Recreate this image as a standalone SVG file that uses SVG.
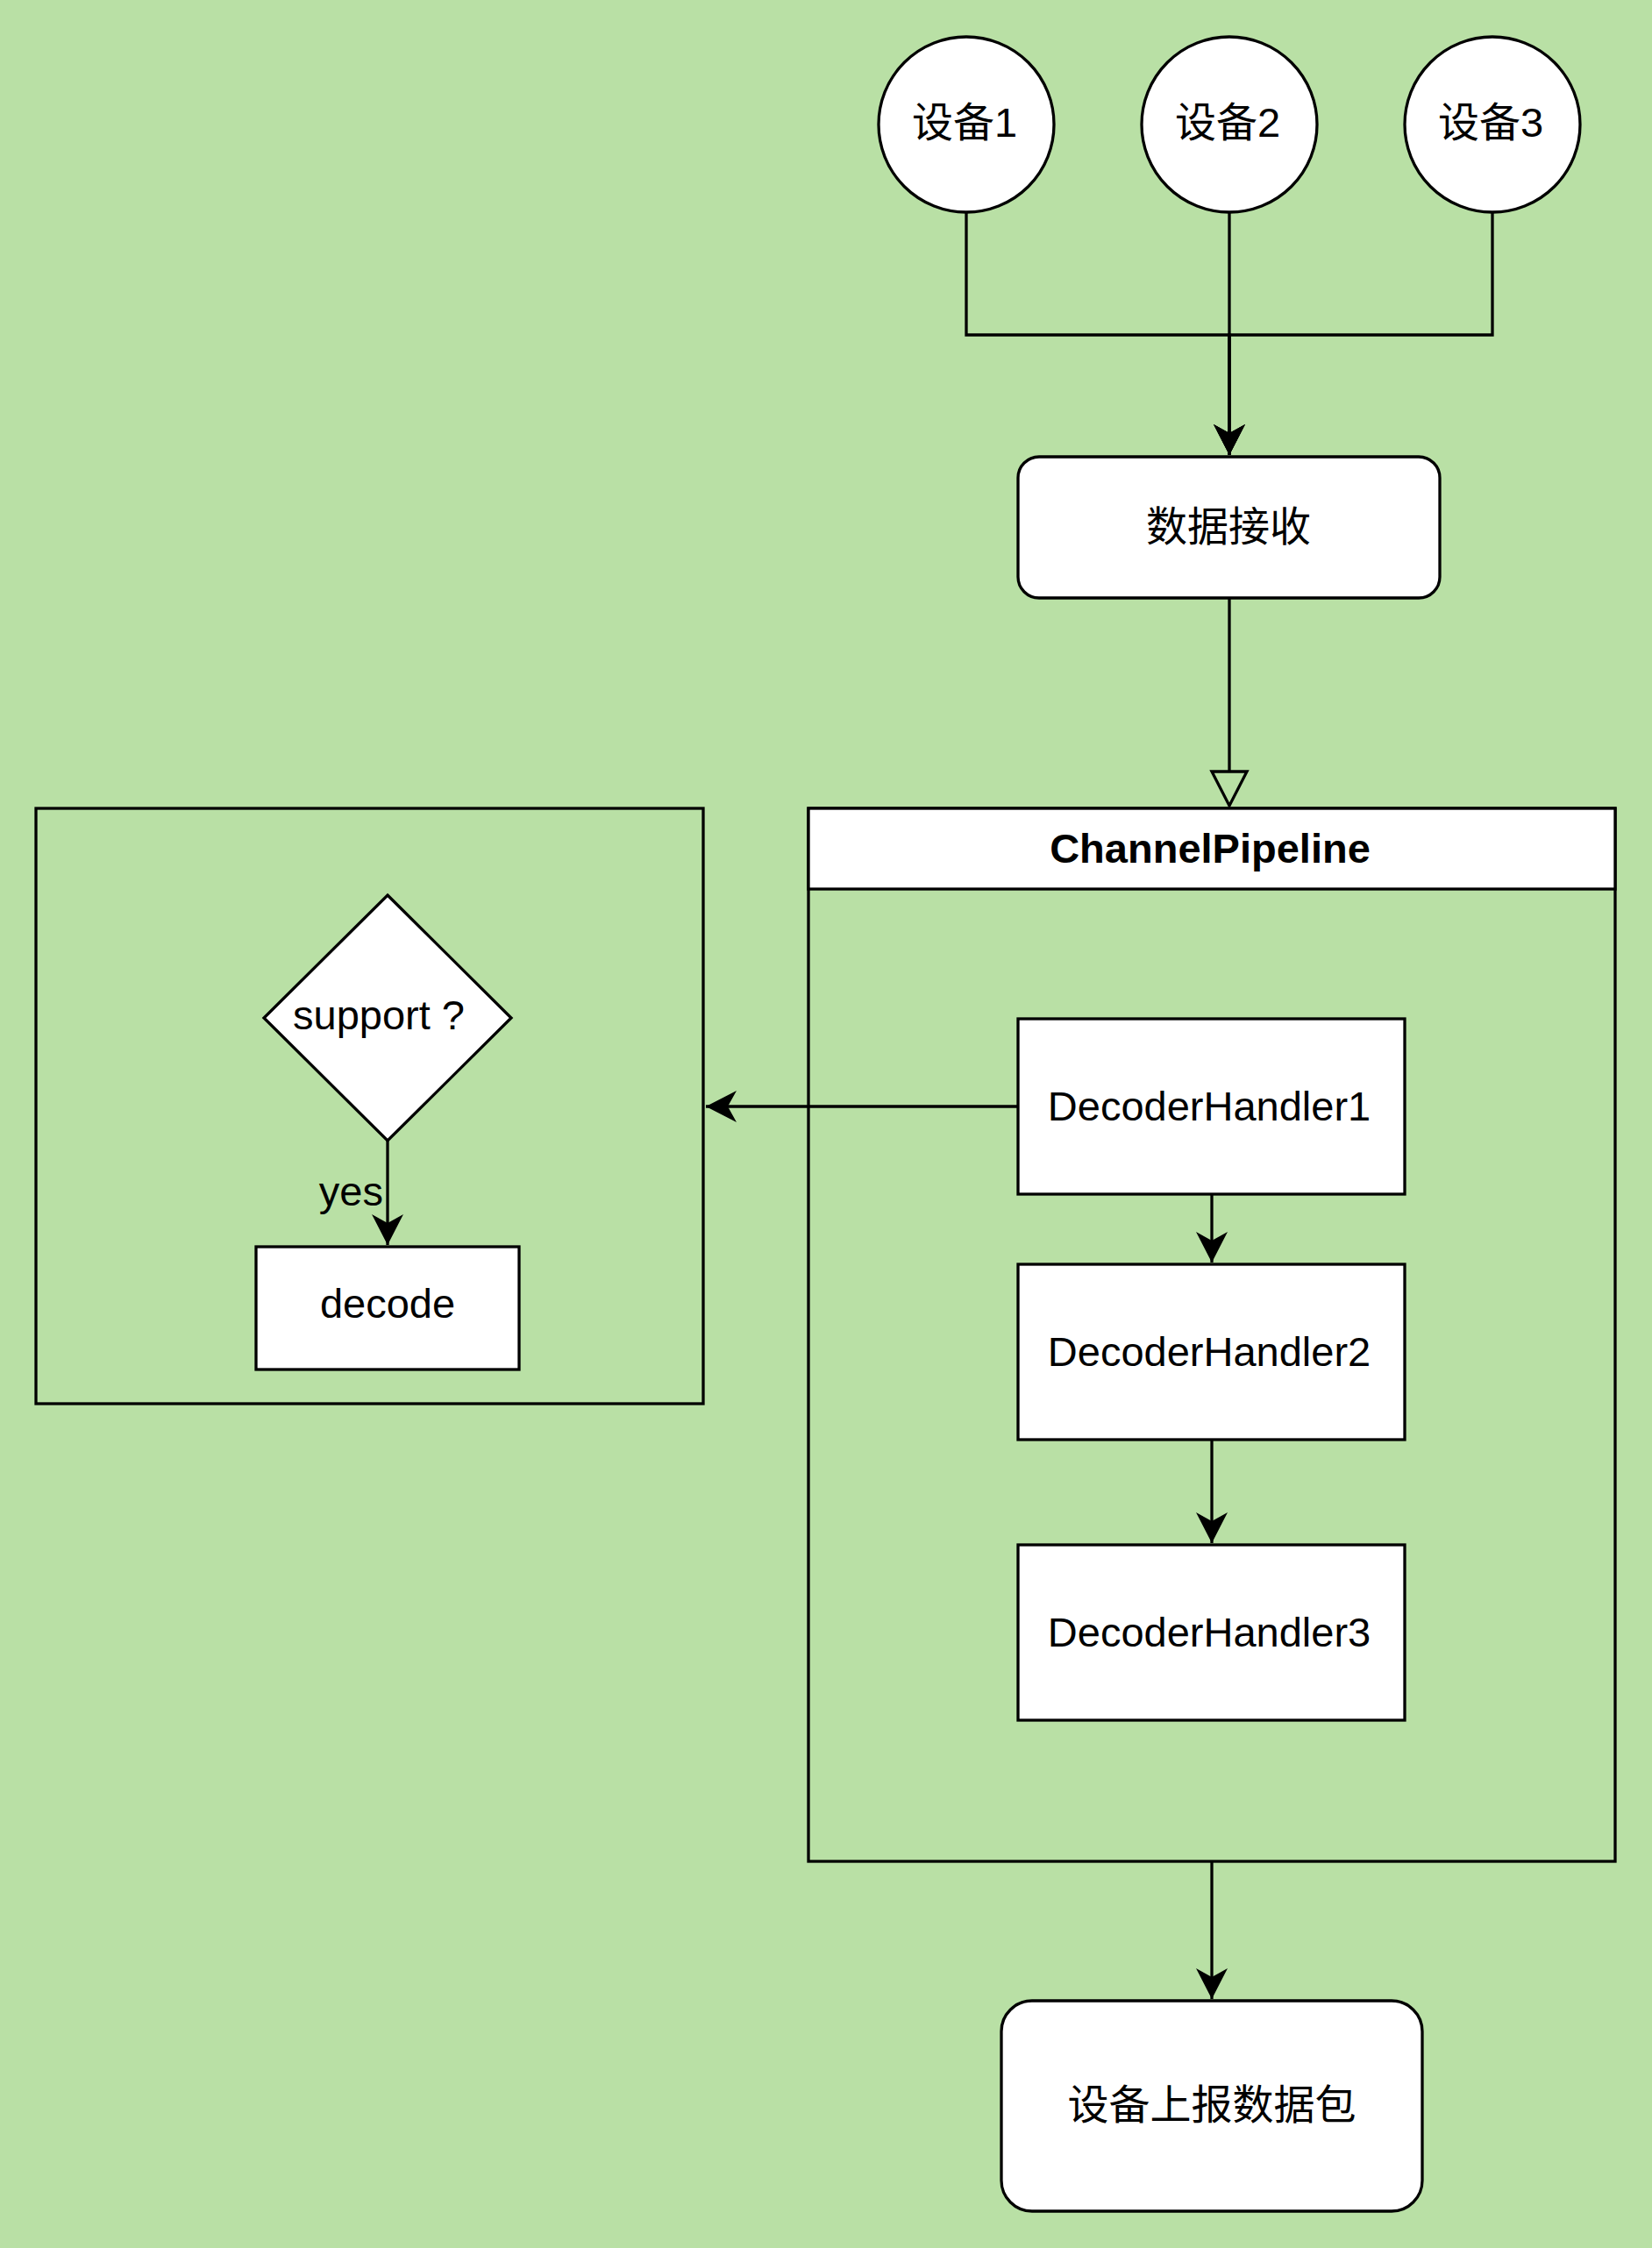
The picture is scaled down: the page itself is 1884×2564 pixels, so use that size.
<svg xmlns="http://www.w3.org/2000/svg" width="1884" height="2564" viewBox="0 0 1884 2564">
<style>
.s{stroke:#000;stroke-width:3.3;}
.w{fill:#fff;}
.n{fill:none;}
.t{font-family:"Liberation Sans","Noto Sans CJK SC",sans-serif;font-size:47px;fill:#000;text-anchor:middle;}
.b{font-weight:bold;}
.c{fill:none;stroke:#000;stroke-width:3.3;}
</style>
<defs>
<marker id="arr" viewBox="0 0 36 36" refX="35" refY="18" markerWidth="36" markerHeight="36" markerUnits="userSpaceOnUse" orient="auto">
<path d="M0 0 L35 18 L0 36 L10 18 Z" fill="#000"/>
</marker>
</defs>
<rect x="0" y="0" width="1884" height="2564" fill="#B9E0A5"/>

<g id="connectors">
<path class="c" d="M1102 242 V382 H1402 V519" marker-end="url(#arr)"/>
<path class="c" d="M1402 242 V519" marker-end="url(#arr)"/>
<path class="c" d="M1702 242 V382 H1402 V519" marker-end="url(#arr)"/>
<path class="c" d="M1402 682 V880"/>
<polygon points="1382,880 1422,880 1402,919" fill="#B9E0A5" stroke="#000" stroke-width="3.3"/>
<path class="c" d="M1161 1262 H805" marker-end="url(#arr)"/>
<path class="c" d="M1382 1362 V1440" marker-end="url(#arr)"/>
<path class="c" d="M1382 1642 V1760" marker-end="url(#arr)"/>
<path class="c" d="M1382 2123 V2280" marker-end="url(#arr)"/>
<path class="c" d="M442 1301 V1420" marker-end="url(#arr)"/>
<text class="t" x="437" y="1375" style="text-anchor:end">yes</text>
</g>

<g id="device1">
<circle class="s w" cx="1102" cy="142" r="100"/>
<text class="t" x="1100" y="156">设备1</text>
</g>
<g id="device2">
<circle class="s w" cx="1402" cy="142" r="100"/>
<text class="t" x="1400" y="156">设备2</text>
</g>
<g id="device3">
<circle class="s w" cx="1702" cy="142" r="100"/>
<text class="t" x="1700" y="156">设备3</text>
</g>

<g id="receive">
<rect class="s w" x="1161" y="521" width="481" height="161" rx="24" ry="24"/>
<text class="t" x="1401" y="617">数据接收</text>
</g>

<g id="pipeline">
<rect class="s n" x="922" y="922" width="920" height="1201"/>
<rect class="s w" x="922" y="922" width="920" height="92"/>
<text class="t b" x="1380" y="984">ChannelPipeline</text>
</g>

<g id="handler1">
<rect class="s w" x="1161" y="1162" width="441" height="200"/>
<text class="t" x="1379" y="1278">DecoderHandler1</text>
</g>
<g id="handler2">
<rect class="s w" x="1161" y="1442" width="441" height="200"/>
<text class="t" x="1379" y="1558">DecoderHandler2</text>
</g>
<g id="handler3">
<rect class="s w" x="1161" y="1762" width="441" height="200"/>
<text class="t" x="1379" y="1878">DecoderHandler3</text>
</g>

<g id="decoder-box">
<rect class="s n" x="41" y="922" width="761" height="679"/>
</g>
<g id="support">
<polygon class="s w" points="442,1021 583,1161 442,1301 301,1161"/>
<text class="t" x="432" y="1174">support ?</text>
</g>
<g id="decode">
<rect class="s w" x="292" y="1422" width="300" height="140"/>
<text class="t" x="442" y="1503">decode</text>
</g>

<g id="report">
<rect class="s w" x="1142" y="2282" width="480" height="240" rx="35" ry="35"/>
<text class="t" x="1382" y="2417">设备上报数据包</text>
</g>
</svg>
